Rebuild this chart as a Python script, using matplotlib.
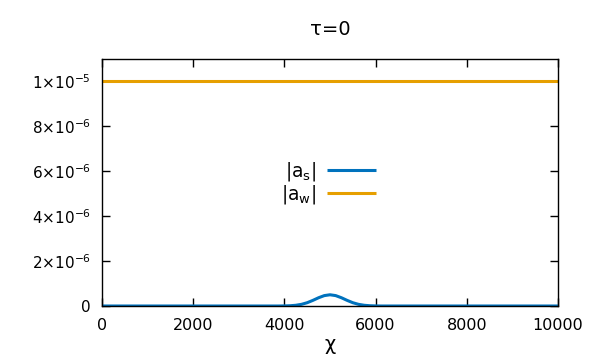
import matplotlib
matplotlib.use("Agg")
import matplotlib.pyplot as plt
from matplotlib.ticker import FixedLocator

# data
chi_s = [0, 3875, 4000, 4125, 4250, 4375, 4500, 4625, 4750, 4875, 5000,
         5125, 5250, 5375, 5500, 5625, 5750, 5875, 6000, 6125, 10000]
a_s = [0.0, 0.0, 0.04e-7, 0.12e-7, 0.32e-7, 0.74e-7, 1.47e-7, 2.51e-7, 3.68e-7, 4.63e-7, 5.0e-7,
       4.63e-7, 3.68e-7, 2.51e-7, 1.47e-7, 0.74e-7, 0.32e-7, 0.12e-7, 0.04e-7, 0.0, 0.0]
chi_w = [0, 10000]
a_w = [1e-5, 1e-5]

xticks = [0, 2000, 4000, 6000, 8000, 10000]
yticks = [0, 2e-6, 4e-6, 6e-6, 8e-6, 1e-5]
ytick_labels = ['0', r'$2{\times}10^{-6}$', r'$4{\times}10^{-6}$', r'$6{\times}10^{-6}$',
                r'$8{\times}10^{-6}$', r'$1{\times}10^{-5}$']

fig = plt.figure(figsize=(5.9, 3.55), dpi=100)
ax = fig.add_axes([102/590, 49/355, 456/590, 247/355])

ax.plot(chi_s, a_s, color='#0072bd', lw=2.2, label=r'$\mathregular{|a_s|}$', solid_capstyle='butt')
ax.plot(chi_w, a_w, color='#e69f00', lw=2.2, label=r'$\mathregular{|a_w|}$', solid_capstyle='butt')

ax.set_xlim(0, 10000)
ax.set_ylim(0, 1.1e-5)
ax.xaxis.set_major_locator(FixedLocator(xticks))
ax.set_yticks(yticks)
ax.set_yticklabels(ytick_labels)
ax.tick_params(direction='in', top=True, right=True, length=6, width=1, labelsize=11)
ax.tick_params(axis='x', pad=9, labelsize=11.5)
ax.tick_params(axis='y', pad=8)
for sp in ax.spines.values():
    sp.set_linewidth(1)

ax.set_title('τ=0', fontsize=14, pad=17)
ax.set_xlabel('χ', fontsize=14, labelpad=1)

leg = ax.legend(loc='center right', bbox_to_anchor=(0.601, 0.496), frameon=False, markerfirst=False,
                fontsize=13.5, handlelength=2.6, handletextpad=0.6, labelspacing=0.0,
                borderaxespad=0, borderpad=0)

fig.savefig('out.png', dpi=100)
